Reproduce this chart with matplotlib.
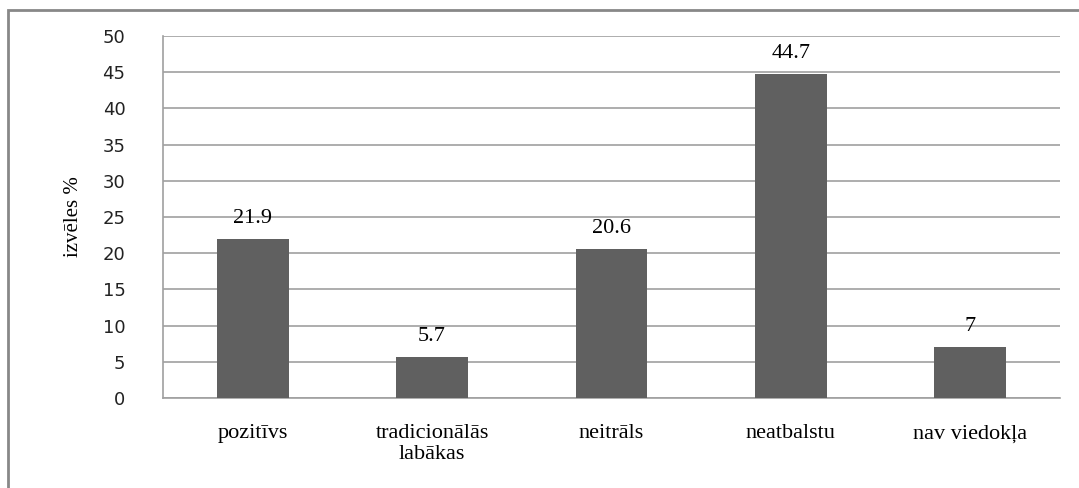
import matplotlib.pyplot as plt
from matplotlib.patches import Rectangle

categories = ["pozitīvs", "tradicionālās\nlabākas", "neitrāls", "neatbalstu", "nav viedokļa"]
values = [21.9, 5.7, 20.6, 44.7, 7]
value_labels = ["21.9", "5.7", "20.6", "44.7", "7"]
yticks = [0, 5, 10, 15, 20, 25, 30, 35, 40, 45, 50]

serif = ["Liberation Serif", "DejaVu Serif"]

fig = plt.figure(figsize=(10.79, 4.88), dpi=100)
ax = fig.add_axes([163/1079, 1 - 398/488, (1060-163)/1079, (398-36)/488])

x = list(range(len(categories)))
bars = ax.bar(x, values, width=0.4, color="#606060", zorder=3)
for xi, v, lab in zip(x, values, value_labels):
  ax.annotate(lab, (xi, v), xytext=(0, 8), textcoords="offset points",
              ha="center", va="bottom", fontsize=16, family=serif)

ax.set_xlim(-0.5, len(categories) - 0.5)
ax.set_ylim(0, 50)
ax.set_yticks(yticks)
ax.set_yticklabels([str(t) for t in yticks], fontsize=13, family="DejaVu Sans", color="#222222")
ax.set_xticks(x)
ax.set_xticklabels(categories, fontsize=16, family=serif, linespacing=1.15)
ax.tick_params(axis="both", length=0)
ax.tick_params(axis="x", pad=19)
ax.tick_params(axis="y", pad=27)
ax.yaxis.grid(True, color="#a0a0a0", linewidth=1.2, zorder=0)

for s in ["top", "right"]:
  ax.spines[s].set_visible(False)
for s in ["left", "bottom"]:
  ax.spines[s].set_color("#a0a0a0")
  ax.spines[s].set_linewidth(1.2)

ax.set_ylabel("izvēles %", fontsize=15, family=serif, labelpad=14)

# outer frame of the chart
fig.patches.append(Rectangle((8/1079, -0.2), 1.2, 1.2 - 10/488, transform=fig.transFigure,
                             fill=False, edgecolor="#888888", linewidth=2, clip_on=False))

fig.savefig("out.png", dpi=100)
